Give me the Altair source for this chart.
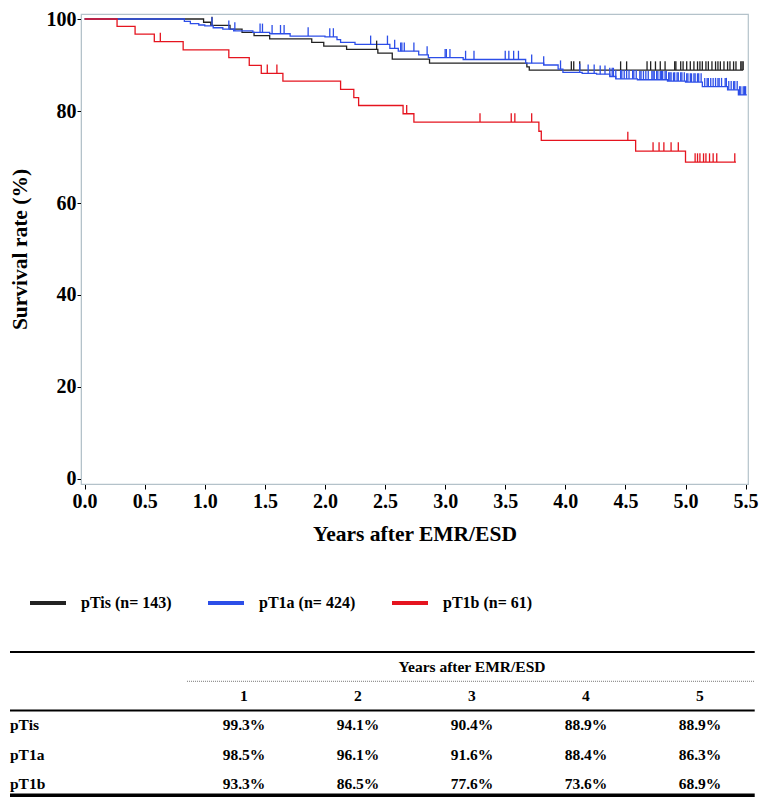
import bisect
import altair as alt
import pandas as pd

# ---------------- data ----------------
groups = ["pTis", "pT1a", "pT1b"]
n_patients = [143, 424, 61]
colors = ["#222222", "#2c4ee8", "#e5141f"]

# Kaplan-Meier step points (years, survival %)
time_tis = [0, 0.99, 1.05, 1.21, 1.31, 1.41, 1.54, 1.89, 1.99, 2.18, 2.44, 2.56, 2.87, 3.68, 3.70, 5.48]
surv_tis = [100, 99.3, 98.6, 97.8, 97.1, 96.4, 95.7, 94.9, 94.1, 93.4, 92.6, 91.3, 90.4, 89.6, 88.9, 88.9]

time_t1a = [0, 0.83, 0.88, 0.95, 1.00, 1.07, 1.15, 1.24, 1.40, 1.54, 1.71, 2.00, 2.10, 2.13, 2.25,
            2.54, 2.61, 2.78, 2.86, 3.15, 3.67, 3.82, 3.94, 3.98, 4.14, 4.26, 4.37, 4.42, 4.60,
            4.85, 5.00, 5.14, 5.35, 5.44, 5.51]
surv_t1a = [100, 99.5, 99.0, 98.7, 98.5, 98.1, 97.8, 97.4, 97.1, 96.8, 96.3, 96.1, 95.5, 94.9, 94.5,
            93.6, 93.0, 92.2, 91.6, 91.2, 90.4, 90.0, 89.1, 88.4, 88.2, 88.0, 87.5, 87.0, 86.8,
            86.5, 86.3, 85.3, 84.6, 83.5, 83.5]

time_t1b = [0, 0.27, 0.42, 0.58, 0.82, 1.20, 1.37, 1.47, 1.65, 2.13, 2.24, 2.28, 2.65, 2.74,
            3.78, 3.80, 4.585, 5.00, 5.42]
surv_t1b = [100, 98.4, 96.7, 95.1, 93.3, 91.6, 89.9, 88.2, 86.5, 84.7, 82.9, 81.2, 79.4, 77.6,
            75.6, 73.6, 71.3, 68.9, 68.9]

# censoring times (years)
cens_tis = [1.06, 2.43, 4.05, 4.07, 4.12, 4.46, 4.51, 4.68, 4.71, 4.75, 4.79, 4.83, 4.91, 4.92,
            4.96, 4.98, 5.01, 5.04, 5.07, 5.10, 5.12, 5.14, 5.17, 5.19, 5.22, 5.25, 5.27, 5.29,
            5.32, 5.35, 5.37, 5.40, 5.42, 5.46, 5.47, 5.48]
cens_t1a = [1.06, 1.20, 1.25, 1.46, 1.48, 1.56, 1.63, 1.66, 1.86, 2.04, 2.07, 2.38, 2.52, 2.58,
            2.63, 2.64, 2.66, 2.74, 2.85, 3.00, 3.01, 3.04, 3.17, 3.24, 3.50, 3.53, 3.57, 3.61,
            3.72, 3.82, 3.96, 4.12, 4.19, 4.24, 4.29, 4.33, 4.37, 4.39, 4.40, 4.42, 4.46, 4.47,
            4.49, 4.51, 4.53, 4.56, 4.57, 4.59, 4.62, 4.63, 4.65, 4.67, 4.69, 4.72, 4.73, 4.74,
            4.76, 4.77, 4.79, 4.80, 4.81, 4.83, 4.84, 4.86, 4.87, 4.88, 4.90, 4.91, 4.93, 4.94,
            4.96, 4.97, 4.99, 5.01, 5.02, 5.04, 5.05, 5.07, 5.08, 5.10, 5.11, 5.13, 5.16, 5.18,
            5.19, 5.21, 5.23, 5.25, 5.27, 5.28, 5.30, 5.33, 5.34, 5.36, 5.38, 5.40, 5.41, 5.43,
            5.45, 5.46, 5.48, 5.49, 5.50]
cens_t1b = [0.63, 1.52, 1.60, 2.68, 3.29, 3.55, 3.58, 3.72, 4.52, 4.73, 4.78, 4.82, 4.88, 4.94,
            5.08, 5.10, 5.12, 5.15, 5.17, 5.20, 5.23, 5.26, 5.41]

# table of survival rates
table_years = [1, 2, 3, 4, 5]
rate_tis = [99.3, 94.1, 90.4, 88.9, 88.9]
rate_t1a = [98.5, 96.1, 91.6, 88.4, 86.3]
rate_t1b = [93.3, 86.5, 77.6, 73.6, 68.9]

x_ticks = [0, 0.5, 1.0, 1.5, 2.0, 2.5, 3.0, 3.5, 4.0, 4.5, 5.0, 5.5]
y_ticks = [0, 20, 40, 60, 80, 100]

# ---------------- build tables ----------------
labels = [f"{g} (n= {n})" for g, n in zip(groups, n_patients)]
times = [time_tis, time_t1a, time_t1b]
survs = [surv_tis, surv_t1a, surv_t1b]
cens = [cens_tis, cens_t1a, cens_t1b]
rates = [rate_tis, rate_t1a, rate_t1b]

step_rows, cens_rows = [], []
for lab, ts, ss, cs in zip(labels, times, survs, cens):
    for t, s in zip(ts, ss):
        step_rows.append({"series": lab, "t": t, "s": s})
    for c in cs:
        s = ss[bisect.bisect_right(ts, c) - 1]
        cens_rows.append({"series": lab, "t": c, "s": s})
steps = pd.DataFrame(step_rows)
censored = pd.DataFrame(cens_rows)

# table column positions: year columns at 1..5, label column at the far left
LEFT, RIGHT = -1.0526, 5.48
cell_rows = []
for r, (g, rr) in enumerate(zip(groups, rates), start=1):
    for yr, v in zip(table_years, rr):
        cell_rows.append({"row": r, "col": yr, "txt": f"{v:.1f}%"})
cells = pd.DataFrame(cell_rows)
row_labels = pd.DataFrame({"row": [1, 2, 3], "col": [LEFT] * 3, "txt": groups})
head_nums = pd.DataFrame({"row": [0] * 5, "col": table_years, "txt": [str(y) for y in table_years]})
head_title = pd.DataFrame({"row": [-1], "col": [3], "txt": ["Years after EMR/ESD"]})
full_rules = pd.DataFrame({"row": [-1.5, 0.5, 3.4], "col": [LEFT] * 3, "col2": [RIGHT] * 3,
                           "w": [2, 2, 4]})
dotted = pd.DataFrame({"row": [-0.5], "col": [0.5], "col2": [RIGHT]})

# ---------------- KM plot ----------------
FONT = "Liberation Serif"
FRAME = "#b4c2ca"
W = 667

x_scale = alt.Scale(domain=[-0.03, 5.52], nice=False, zero=False)
y_scale = alt.Scale(domain=[-1.09, 101.09], nice=False, zero=False)
color_scale = alt.Scale(domain=labels, range=colors)

x_axis = alt.Axis(values=x_ticks, format=".1f", title="Years after EMR/ESD",
                  labelFont=FONT, labelFontSize=20, labelFontWeight="bold", labelColor="black",
                  titleFont=FONT, titleFontSize=21.5, titleFontWeight="bold", titleColor="black",
                  titlePadding=12, tickSize=5, tickColor="black", domainColor=FRAME,
                  labelPadding=2, labelFlush=False, labelOverlap=False, grid=False)
y_axis = alt.Axis(values=y_ticks, format="d", title="Survival rate (%)",
                  labelFont=FONT, labelFontSize=20, labelFontWeight="bold", labelColor="black",
                  titleFont=FONT, titleFontSize=21.5, titleFontWeight="bold", titleColor="black",
                  titlePadding=14.5, tickSize=4, tickColor="black", domainColor=FRAME,
                  labelPadding=1, labelOverlap=False, grid=False)
legend = alt.Legend(title=None, orient="none", legendX=-53, legendY=569, direction="horizontal",
                    columns=3, symbolType="stroke", symbolSize=1296, symbolStrokeWidth=4,
                    labelFont=FONT, labelFontSize=16, labelFontWeight="bold", labelColor="black",
                    columnPadding=28, labelOffset=13, padding=0)

lines = alt.Chart(steps).mark_line(interpolate="step-after", strokeWidth=1.3).encode(
    x=alt.X("t:Q", scale=x_scale, axis=x_axis),
    y=alt.Y("s:Q", scale=y_scale, axis=y_axis),
    color=alt.Color("series:N", scale=color_scale, legend=legend),
)
ticks = alt.Chart(censored).transform_calculate(top="datum.s + 1.9").mark_rule(strokeWidth=1.3).encode(
    x=alt.X("t:Q", scale=x_scale, axis=x_axis),
    y=alt.Y("s:Q", scale=y_scale, axis=y_axis),
    y2="top:Q",
    color=alt.Color("series:N", scale=color_scale, legend=legend),
)
km = alt.layer(lines, ticks).properties(
    width=W, height=470, view=alt.ViewBackground(stroke=FRAME, strokeWidth=1.2)
)

# ---------------- table ----------------
tx = alt.Scale(domain=[-0.4298, 5.4211], nice=False, zero=False)
ty = alt.Scale(domain=[-1.5, 3.45], nice=False, zero=False, reverse=True)
tfont = dict(font=FONT, fontWeight="bold", fontSize=15.5, color="black", baseline="middle")

t_rules = alt.Chart(full_rules).mark_rule(color="black").encode(
    x=alt.X("col:Q", scale=tx, axis=None), x2="col2:Q",
    y=alt.Y("row:Q", scale=ty, axis=None),
    strokeWidth=alt.StrokeWidth("w:Q", scale=None, legend=None),
)
t_dot = alt.Chart(dotted).mark_rule(color="#777777", strokeDash=[1, 1], strokeWidth=1).encode(
    x=alt.X("col:Q", scale=tx, axis=None), x2="col2:Q",
    y=alt.Y("row:Q", scale=ty, axis=None),
)


def text_layer(df, align="center", dx=0):
    return alt.Chart(df).mark_text(align=align, dx=dx, **tfont).encode(
        x=alt.X("col:Q", scale=tx, axis=None),
        y=alt.Y("row:Q", scale=ty, axis=None),
        text="txt:N",
    )


table = alt.layer(
    t_rules, t_dot,
    text_layer(head_title), text_layer(head_nums), text_layer(cells),
    text_layer(row_labels, align="left", dx=0),
).properties(width=W, height=145, view=alt.ViewBackground(strokeOpacity=0))

chart = alt.vconcat(km, table, spacing=105).properties(padding=0)
chart.save("out.html", embed_options={"renderer": "svg", "actions": False})
